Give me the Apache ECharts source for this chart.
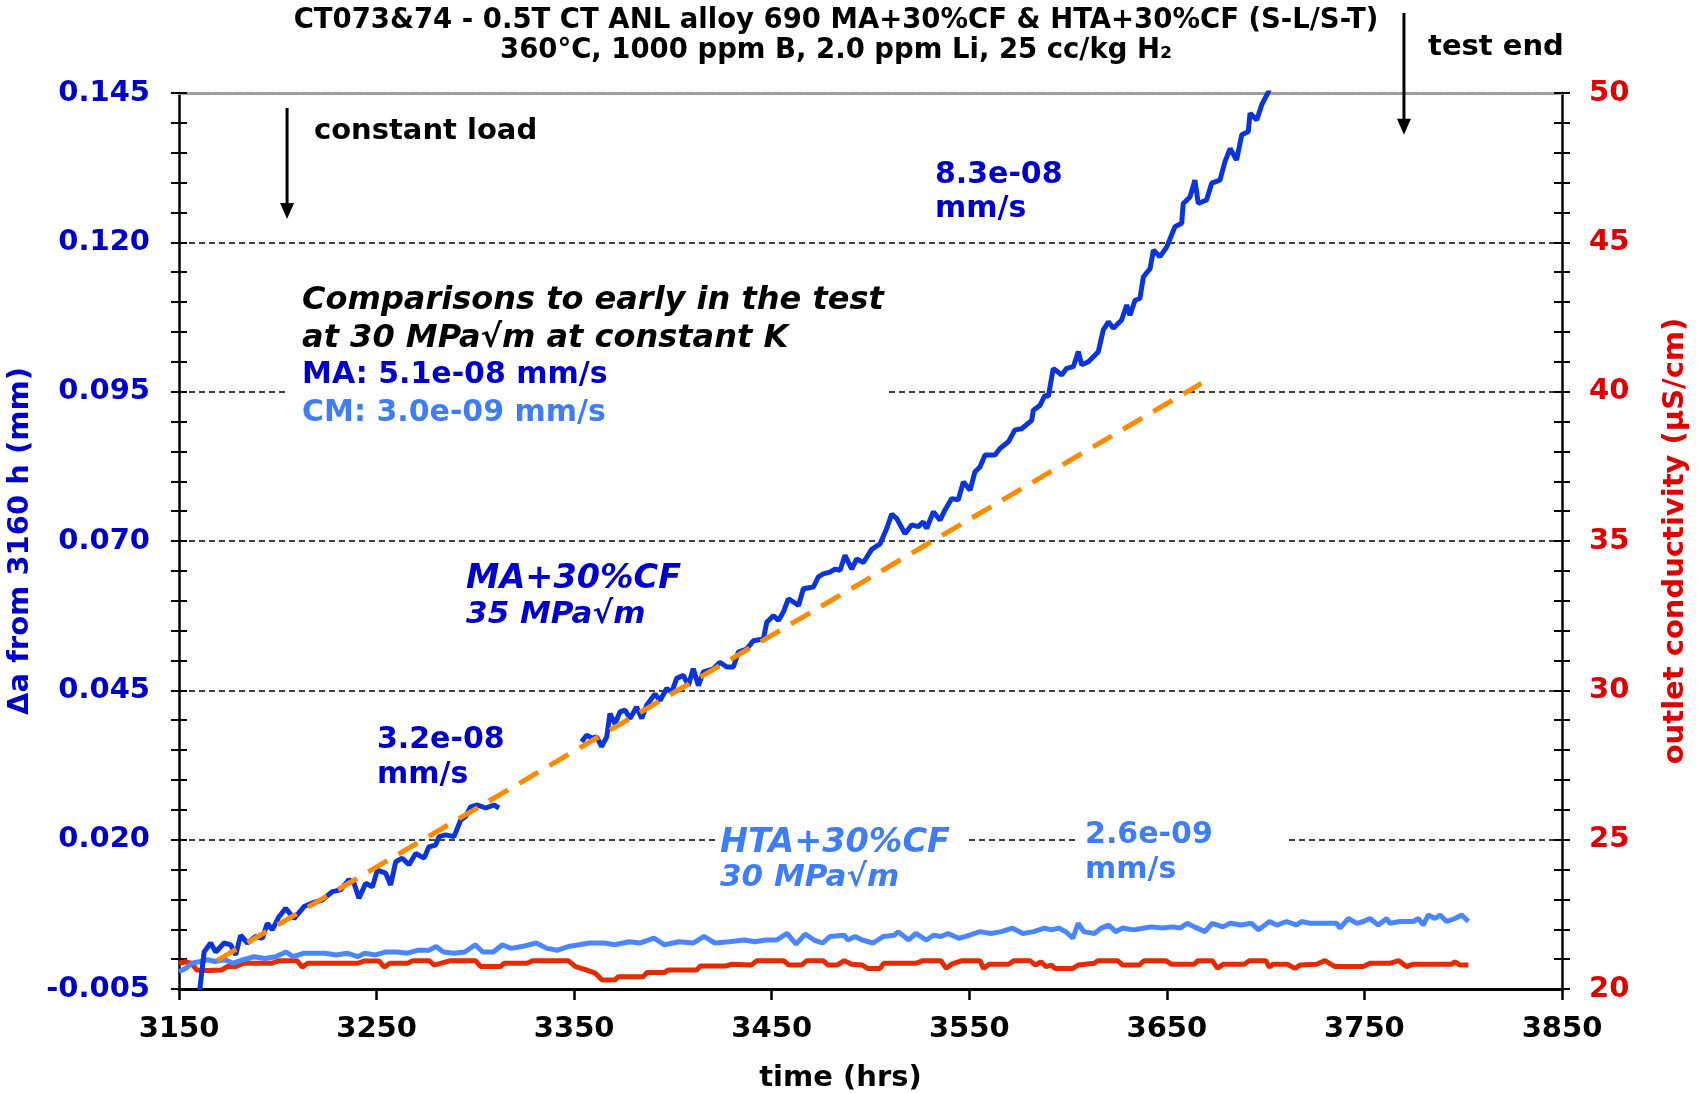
<!DOCTYPE html>
<html><head><meta charset="utf-8">
<script src="https://cdn.jsdelivr.net/npm/echarts@6/dist/echarts.min.js"></script>
<style>html,body{margin:0;padding:0;background:#fff}#c{width:1700px;height:1093px}</style>
</head><body><div id="c"></div>
<script>
// ---------- data ----------
const maHours = [3160.5,3162.7,3166.0,3168.6,3172.8,3176.2,3178.7,3181.2,3184.6,3188.8,3192.2,3194.7,3197.2,3200.6,3204.0,3208.2,3213.3,3217.5,3222.5,3227.6,3231.8,3236.0,3238.6,3241.1,3244.5,3247.9,3250.4,3254.6,3257.1,3259.7,3263.0,3266.4,3269.8,3274.0,3276.5,3279.9,3281.6,3285.0,3289.2,3292.6,3295.1,3297.6,3301.0,3305.2,3309.4,3312.0,
 3330.0,
 3353.8,3356.3,3358.9,3361.4,3363.9,3366.5,3368.1,3370.7,3373.2,3375.7,3378.3,3381.6,3384.2,3386.7,3390.9,3393.5,3396.8,3399.4,3401.9,3405.3,3407.8,3410.3,3412.9,3415.4,3420.5,3423.8,3427.2,3430.6,3433.1,3437.3,3440.7,3445.8,3447.5,3450.8,3453.4,3455.9,3458.4,3461.0,3463.6,3466.0,3471.1,3473.6,3476.1,3479.5,3482.0,3484.6,3487.1,3490.5,3493.0,3496.4,3500.6,3504.8,3508.2,3510.7,3513.2,3517.5,3520.8,3524.2,3526.7,3528.4,3531.8,3535.2,3537.7,3541.1,3544.4,3547.0,3550.4,3552.9,3555.4,3558.0,3563.0,3565.5,3569.8,3573.1,3576.5,3581.6,3582.4,3585.8,3588.3,3590.0,3592.5,3596.8,3599.3,3602.7,3605.2,3606.9,3610.3,3615.3,3617.8,3620.4,3622.9,3627.1,3629.7,3631.3,3633.9,3636.4,3638.1,3641.5,3643.2,3646.5,3649.9,3654.1,3657.5,3658.3,3661.7,3664.2,3665.9,3670.1,3672.7,3676.9,3679.4,3682.0,3685.3,3687.9,3691.2,3692.1,3695.5,3698.0,3701.4,3704.0];
const maCrack = [-0.0052,0.0012,0.0027,0.0012,0.0027,0.0024,0.0007,0.0040,0.0027,0.0038,0.0035,0.0060,0.0049,0.0071,0.0085,0.0068,0.0088,0.0094,0.0099,0.0113,0.0116,0.0133,0.0127,0.0102,0.0127,0.0121,0.0149,0.0144,0.0124,0.0163,0.0169,0.0158,0.0177,0.0169,0.0188,0.0191,0.0205,0.0208,0.0205,0.0233,0.0239,0.0255,0.0258,0.0253,0.0258,0.0253,
 null,
 0.0364,0.0375,0.0370,0.0372,0.0356,0.0372,0.0411,0.0394,0.0414,0.0417,0.0403,0.0422,0.0403,0.0425,0.0444,0.0433,0.0453,0.0447,0.0470,0.0475,0.0458,0.0486,0.0458,0.0481,0.0486,0.0497,0.0489,0.0489,0.0514,0.0519,0.0533,0.0536,0.0564,0.0575,0.0567,0.0581,0.0603,0.0598,0.0592,0.0620,0.0623,0.0640,0.0645,0.0648,0.0653,0.0651,0.0676,0.0653,0.0670,0.0664,0.0686,0.0695,0.0721,0.0745,0.0738,0.0712,0.0727,0.0724,0.0732,0.0721,0.0749,0.0735,0.0752,0.0771,0.0769,0.0799,0.0785,0.0816,0.0824,0.0844,0.0844,0.0855,0.0866,0.0886,0.0888,0.0902,0.0919,0.0927,0.0944,0.0942,0.0989,0.0978,0.0989,0.0992,0.1017,0.0995,0.1000,0.1017,0.1053,0.1067,0.1056,0.1070,0.1095,0.1078,0.1103,0.1106,0.1142,0.1156,0.1187,0.1176,0.1192,0.1226,0.1232,0.1265,0.1276,0.1304,0.1265,0.1271,0.1299,0.1304,0.1335,0.1357,0.1338,0.1380,0.1385,0.1416,0.1405,0.1430,0.1452,0.1480];

const htaHours = [3150.0,3153.6,3156.3,3160.8,3164.5,3168.1,3173.5,3177.1,3182.5,3188.0,3193.4,3198.8,3204.2,3207.8,3213.3,3218.7,3224.1,3229.5,3235.0,3240.4,3244.0,3249.4,3254.8,3260.3,3265.7,3271.1,3276.5,3280.2,3283.8,3289.2,3294.6,3300.0,3303.7,3309.1,3313.6,3318.1,3323.5,3330.8,3336.2,3341.6,3347.0,3352.5,3357.9,3365.1,3370.5,3377.8,3383.2,3390.4,3395.8,3403.1,3410.3,3415.7,3421.2,3428.4,
 3436.1,3441.6,3447.0,3452.4,3457.8,3462.3,3466.9,3471.4,3475.9,3479.5,3486.7,3488.5,3492.2,3495.8,3501.2,3506.6,3512.1,3513.9,3519.3,3522.9,3528.3,3531.9,3535.6,3539.2,3544.6,3548.2,3555.4,3560.9,3566.3,3571.7,3577.1,3582.6,3588.0,3591.6,3595.2,3598.8,3602.4,3605.1,3607.9,3613.3,3616.9,3620.5,3624.1,3627.7,3633.2,3638.6,3642.2,3647.6,3653.0,3656.7,3660.3,3663.9,3669.3,3672.9,3678.4,3682.0,3687.4,3692.8,3696.4,3701.9,
 3705.6,3710.6,3715.7,3718.2,3722.4,3735.9,3737.6,3741.9,3746.1,3749.4,3752.8,3757.0,3761.3,3762.9,3768.0,3774.7,3777.3,3779.8,3782.3,3785.7,3788.3,3791.6,3795.8,3799.2,3802.6];
const htaCrack = [-0.0021,-0.0015,-0.0007,-0.0004,-0.0001,-0.0004,-0.0001,-0.0007,-0.0001,0.0004,0.0001,0.0004,0.0012,0.0004,0.0010,0.0010,0.0010,0.0007,0.0010,0.0004,0.0010,0.0007,0.0012,0.0012,0.0010,0.0015,0.0015,0.0021,0.0012,0.0010,0.0012,0.0024,0.0012,0.0012,0.0024,0.0018,0.0021,0.0027,0.0018,0.0015,0.0021,0.0024,0.0027,0.0027,0.0024,0.0029,0.0027,0.0035,0.0024,0.0029,0.0027,0.0038,0.0027,0.0029,
 0.0032,0.0029,0.0032,0.0032,0.0043,0.0025,0.0042,0.0032,0.0027,0.0038,0.0040,0.0032,0.0038,0.0032,0.0027,0.0038,0.0040,0.0046,0.0032,0.0043,0.0032,0.0040,0.0038,0.0043,0.0035,0.0038,0.0046,0.0043,0.0046,0.0052,0.0043,0.0046,0.0052,0.0049,0.0052,0.0046,0.0035,0.0060,0.0046,0.0043,0.0052,0.0057,0.0046,0.0052,0.0049,0.0052,0.0054,0.0052,0.0054,0.0052,0.0060,0.0054,0.0046,0.0060,0.0054,0.0060,0.0057,0.0060,0.0049,0.0063,
 0.0057,0.0063,0.0057,0.0063,0.0060,0.0060,0.0052,0.0068,0.0060,0.0063,0.0068,0.0057,0.0068,0.0060,0.0063,0.0063,0.0068,0.0057,0.0074,0.0068,0.0074,0.0063,0.0068,0.0074,0.0063];

const condHours = [3150.0,3153.6,3156.3,3159.0,3164.5,3171.7,3174.4,3178.9,3182.5,3197.0,3200.6,3209.7,3212.4,3215.1,3240.4,3244.0,3251.2,3253.9,3256.7,3265.7,3268.4,3276.5,3279.2,3287.4,3300.0,3302.7,3312.7,3314.5,3326.2,3329.0,3347.0,3350.7,3356.1,3360.6,3364.2,3370.5,3372.3,3385.0,3386.8,3395.8,3397.7,3412.1,3413.9,3426.6,3430.0,
 3439.7,3442.5,3456.0,3458.7,3465.1,3467.8,3475.9,3478.6,3483.1,3486.7,3490.4,3495.8,3498.5,3504.8,3506.6,3522.9,3526.5,3535.6,3538.3,3541.0,3546.4,3555.4,3557.2,3560.0,3569.9,3572.6,3580.7,3583.5,3586.2,3588.9,3591.6,3593.4,3602.4,3605.1,3613.3,3615.1,3625.0,3627.7,3635.9,3638.6,3649.4,3652.2,3663.9,3665.7,3672.9,3675.7,3678.4,3689.2,3691.9,3700.1,3701.9,3703.7,3710.9,
 3714.9,3717.4,3725.8,3730.0,3735.1,3749.4,3752.8,3762.9,3767.2,3771.4,3774.7,3794.2,3795.8,3798.4,3802.6];
const condValues = [20.86,20.91,20.86,20.64,20.62,20.64,20.75,20.75,20.86,20.86,20.95,20.95,20.73,20.86,20.86,20.94,20.94,20.73,20.86,20.86,20.95,20.95,20.80,20.95,20.95,20.75,20.75,20.86,20.86,20.95,20.95,20.75,20.64,20.53,20.30,20.30,20.41,20.41,20.55,20.55,20.64,20.64,20.77,20.77,20.83,
 20.80,20.95,20.95,20.80,20.80,20.95,20.95,20.80,20.80,20.95,20.83,20.80,20.69,20.69,20.86,20.86,20.95,20.95,20.69,20.83,20.95,20.95,20.69,20.83,20.83,20.95,20.95,20.80,20.91,20.75,20.80,20.69,20.69,20.80,20.86,20.95,20.95,20.80,20.80,20.95,20.95,20.83,20.83,20.95,20.95,20.69,20.83,20.83,20.95,20.95,20.73,20.83,20.83,
 20.69,20.80,20.83,20.95,20.75,20.75,20.86,20.86,20.95,20.75,20.83,20.83,20.91,20.80,20.80];

const fitHours = [3169.4, 3667.5];
const fitCrack = [-0.0002, 0.0964];

const titleLines = ['CT073&74 - 0.5T CT ANL alloy 690 MA+30%CF & HTA+30%CF (S-L/S-T)',
                    '360°C, 1000 ppm B, 2.0 ppm Li, 25 cc/kg H₂'];
const xName = 'time (hrs)';
const yLeftName = 'Δa from 3160 h (mm)';
const yRightName = 'outlet conductivity (µS/cm)';

// ---------- chart ----------
const FF = "'DejaVu Sans', Verdana, sans-serif";
const BLUE_D = '#0000CC', BLUE_L = '#3F7DF7', RED_T = '#E00000';
const pair = (xs, ys) => xs.map((x, i) => [x, ys[i] === null ? '-' : ys[i]]);

const chart = echarts.init(document.getElementById('c'), null, {renderer: 'canvas'});

function yAx(pos, min, max, interval, inside, withLabels) {
  return {
    type: 'value', position: pos, min: min, max: max, interval: interval,
    axisLine: {show: withLabels, onZero: false, lineStyle: {color: '#000', width: 2.5}},
    axisTick: {show: true, inside: inside, length: 8, lineStyle: {color: '#000', width: 2}},
    minorTick: {show: true, splitNumber: 5, length: 8, lineStyle: {color: '#000', width: 2}},
    axisLabel: {show: false},
    splitLine: {show: false},
    minorSplitLine: {show: false}
  };
}

const yLeft = yAx('left', -0.005, 0.145, 0.025, false, true);
yLeft.axisLabel = {show: true, color: BLUE_D, fontSize: 29, fontWeight: 'bold', fontFamily: FF, margin: 29,
  formatter: v => (Math.round(v * 1000) / 1000).toFixed(3)};
yLeft.splitLine = {show: true, showMinLine: false, showMaxLine: false, lineStyle: {color: '#000', width: 1.5, type: [6, 4]}};
yLeft.name = yLeftName; yLeft.nameLocation = 'middle'; yLeft.nameGap = 135; yLeft.nameRotate = 90;
yLeft.nameTextStyle = {color: BLUE_D, fontSize: 29, fontWeight: 'bold', fontFamily: FF};

const yRight = yAx('right', 20, 50, 5, false, true);
yRight.axisLabel = {show: true, color: RED_T, fontSize: 29, fontWeight: 'bold', fontFamily: FF, margin: 27};
yRight.name = yRightName; yRight.nameLocation = 'middle'; yRight.nameGap = 99; yRight.nameRotate = 90;
yRight.nameTextStyle = {color: RED_T, fontSize: 29, fontWeight: 'bold', fontFamily: FF};

const yLeftIn = yAx('left', -0.005, 0.145, 0.025, true, false);
const yRightIn = yAx('right', 20, 50, 5, true, false);

const option = {
  animation: false,
  backgroundColor: '#fff',
  grid: {left: 179, right: 138, top: 93, bottom: 104, containLabel: false, outerBoundsMode: 'none'},
  xAxis: [{
    type: 'value', position: 'bottom', min: 3150, max: 3850, interval: 100,
    axisLine: {show: true, onZero: false, lineStyle: {color: '#000', width: 3}},
    axisTick: {show: true, inside: false, length: 11, lineStyle: {color: '#000', width: 2.5}},
    axisLabel: {color: '#000', fontSize: 29, fontWeight: 'bold', fontFamily: FF, margin: 26, formatter: v => String(v)},
    splitLine: {show: false},
    name: xName, nameLocation: 'middle', nameGap: 75,
    nameTextStyle: {color: '#000', fontSize: 29, fontWeight: 'bold', fontFamily: FF, padding: [0, 60, 0, 0]}
  }, {
    type: 'value', position: 'top', min: 3150, max: 3850,
    axisLine: {show: true, onZero: false, lineStyle: {color: '#9e9e9e', width: 3, type: [9, 2]}},
    axisTick: {show: false}, axisLabel: {show: false}, splitLine: {show: false}
  }],
  yAxis: [yLeft, yRight, yLeftIn, yRightIn],
  series: [
    {name: 'HTA+30%CF', type: 'line', xAxisIndex: 0, yAxisIndex: 0, data: pair(htaHours, htaCrack),
     showSymbol: false, lineStyle: {color: '#4A86FF', width: 5}, itemStyle: {color: '#4A86FF'}, z: 3},
    {name: 'conductivity', type: 'line', xAxisIndex: 0, yAxisIndex: 1, data: pair(condHours, condValues),
     showSymbol: false, lineStyle: {color: '#E62A00', width: 5}, itemStyle: {color: '#E62A00'}, z: 2},
    {name: 'MA+30%CF', type: 'line', xAxisIndex: 0, yAxisIndex: 0, data: pair(maHours, maCrack),
     showSymbol: false, connectNulls: false, lineStyle: {color: '#0A34DC', width: 5}, itemStyle: {color: '#0A34DC'}, z: 4},
    {name: 'fit', type: 'line', xAxisIndex: 0, yAxisIndex: 0, data: pair(fitHours, fitCrack),
     showSymbol: false, lineStyle: {color: '#FF8A00', width: 5, type: [22, 13]}, itemStyle: {color: '#FF8A00'}, z: 5}
  ]
};
chart.setOption(option);

// ---------- annotations anchored to data coordinates ----------
const P = (t, v) => chart.convertToPixel({xAxisIndex: 0, yAxisIndex: 0}, [t, v]);
const els = [];
function txt(t, v, s, color, size, italic, align) {
  const p = P(t, v);
  els.push({type: 'text', z: 10, x: p[0], y: p[1], style: {
    text: s, fill: color, fontSize: size, fontWeight: 'bold', fontStyle: italic ? 'italic' : 'normal',
    fontFamily: FF, align: align || 'left', verticalAlign: 'middle'}});
}
function box(t1, v1, t2, v2) {
  const a = P(t1, v1), b = P(t2, v2);
  els.push({type: 'rect', z: 1, shape: {x: a[0], y: a[1], width: b[0] - a[0], height: b[1] - a[1]},
    style: {fill: '#fff'}, silent: true});
}
function arrow(t, v1, v2) {
  const a = P(t, v1), b = P(t, v2);
  els.push({type: 'line', z: 10, shape: {x1: a[0], y1: a[1], x2: b[0], y2: b[1] - 12}, style: {stroke: '#000', lineWidth: 3}});
  els.push({type: 'polygon', z: 10, shape: {points: [[b[0] - 7, b[1] - 16], [b[0] + 7, b[1] - 16], [b[0], b[1]]]}, style: {fill: '#000'}});
}

box(3204.7, 0.1154, 3508.4, 0.0886);
box(3421.8, 0.0233, 3547.8, 0.0099);
box(3605.5, 0.0233, 3711.3, 0.0099);

txt(3218.3, 0.1386, 'constant load', '#000', 29, false);
txt(3782.2, 0.1527, 'test end', '#000', 29, false);
arrow(3204.7, 0.1425, 0.1239);
arrow(3770.0, 0.1584, 0.1380);

txt(3212.3, 0.1102, 'Comparisons to early in the test', '#000', 32, true);
txt(3212.3, 0.1038, 'at 30 MPa√m at constant K', '#000', 32, true);
txt(3212.3, 0.0978, 'MA: 5.1e-08 mm/s', BLUE_D, 30, false);
txt(3212.3, 0.0914, 'CM: 3.0e-09 mm/s', BLUE_L, 30, false);

txt(3295.3, 0.0636, 'MA+30%CF', BLUE_D, 33.5, true);
txt(3295.3, 0.0576, '35 MPa√m', BLUE_D, 31, true);
txt(3250.2, 0.0367, '3.2e-08', BLUE_D, 30, false);
txt(3250.2, 0.0308, 'mm/s', BLUE_D, 30, false);
txt(3532.6, 0.1313, '8.3e-08', BLUE_D, 30, false);
txt(3532.6, 0.1256, 'mm/s', BLUE_D, 30, false);
txt(3423.8, 0.0194, 'HTA+30%CF', BLUE_L, 33.5, true);
txt(3423.8, 0.0136, '30 MPa√m', BLUE_L, 31, true);
txt(3608.6, 0.0208, '2.6e-09', BLUE_L, 30, false);
txt(3608.6, 0.0149, 'mm/s', BLUE_L, 30, false);

// title (centered above the plot)
els.push({type: 'text', z: 10, x: 836, y: 21, style: {text: titleLines[0], fill: '#000', fontSize: 27.5, fontWeight: 'bold', fontFamily: FF, align: 'center', verticalAlign: 'middle'}});
els.push({type: 'text', z: 10, x: 836, y: 51, style: {text: titleLines[1], fill: '#000', fontSize: 27.5, fontWeight: 'bold', fontFamily: FF, align: 'center', verticalAlign: 'middle'}});

chart.setOption({graphic: {elements: els}});
</script>
</body></html>
